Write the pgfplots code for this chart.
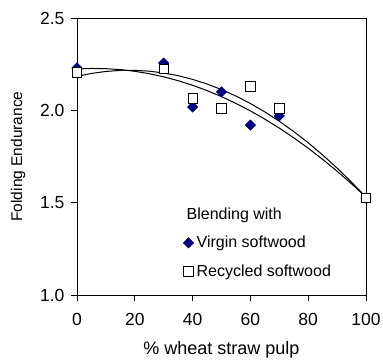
\documentclass[border=0pt]{standalone}
\usepackage{fontspec}
\setmainfont{Liberation Sans}
\usepackage{pgfplots}
\pgfplotsset{compat=1.18}
\definecolor{navyblue}{RGB}{0,0,128}
\begin{document}
\begin{tikzpicture}
\path[use as bounding box] (-77pt,-65pt) rectangle (306pt,295pt);
\begin{axis}[
 at={(0pt,0pt)}, anchor=south west,
 scale only axis, width=289pt, height=277pt,
 xmin=0, xmax=100, ymin=1, ymax=2.5,
 xtick={0,20,...,100}, ytick={1,1.5,2,2.5},
 tick align=outside, xtick pos=bottom, ytick pos=left,
 major tick length=6pt,
 tick style={black, line width=0.8pt},
 axis line style={line width=0.8pt},
 clip=false,
 /pgf/number format/assume math mode=true,
 yticklabel style={/pgf/number format/.cd, fixed, fixed zerofill, precision=1, /tikz/.cd, font=\fontsize{17.5}{20}\selectfont, xshift=-3pt},
 xticklabel style={font=\fontsize{17.5}{20}\selectfont, yshift=-9pt},
 xlabel={\% wheat straw pulp}, ylabel={Folding Endurance},
 xlabel style={font=\fontsize{18}{21}\selectfont, at={(axis description cs:0.5,-0.1986)}, anchor=center},
 ylabel style={font=\fontsize{15.5}{18}\selectfont, at={(axis description cs:-0.204,0.5)}, anchor=center},
 legend style={at={(axis cs:34.5,1.49)}, anchor=north west, draw=none, fill=none, font=\fontsize{16}{19}\selectfont, row sep=13.5pt, nodes={inner ysep=1pt, inner xsep=3pt}},
 legend cell align=left,
]
\addlegendimage{empty legend}\addlegendentry{\hspace*{-10pt}Blending with}
% trend lines
\addplot[black, line width=1pt, forget plot] coordinates {
(0,2.2240) (5,2.2268) (10,2.2256) (15,2.2205) (20,2.2114) (25,2.1984) (30,2.1814) (35,2.1605) (40,2.1357) (45,2.1069) (50,2.0742) (55,2.0375) (60,1.9969) (65,1.9523) (70,1.9038) (75,1.8514) (80,1.7950) (85,1.7347) (90,1.6704) (95,1.6022) (100,1.5300)};
\addplot[black, line width=1pt, forget plot] coordinates {
(0,2.1840) (5,2.1998) (10,2.2106) (15,2.2162) (20,2.2167) (25,2.2121) (30,2.2024) (35,2.1876) (40,2.1677) (45,2.1426) (50,2.1125) (55,2.0772) (60,2.0369) (65,1.9914) (70,1.9408) (75,1.8851) (80,1.8243) (85,1.7584) (90,1.6874) (95,1.6112) (100,1.5300)};
% data
\addplot[only marks, mark=square*, mark size=3.7pt, mark options={rotate=45, fill=navyblue, draw=navyblue}] coordinates {
(0,2.23) (30,2.256) (40,2.018) (50,2.10) (60,1.92) (70,1.97) (100,1.525)};
\addlegendentry{Virgin softwood}
\addplot[only marks, mark=square*, mark size=4.6pt, mark options={fill=white, draw=black, line width=0.8pt}] coordinates {
(0,2.205) (30,2.224) (40,2.065) (50,2.01) (60,2.13) (70,2.01) (100,1.525)};
\addlegendentry{Recycled softwood}
\end{axis}
\end{tikzpicture}
\end{document}
